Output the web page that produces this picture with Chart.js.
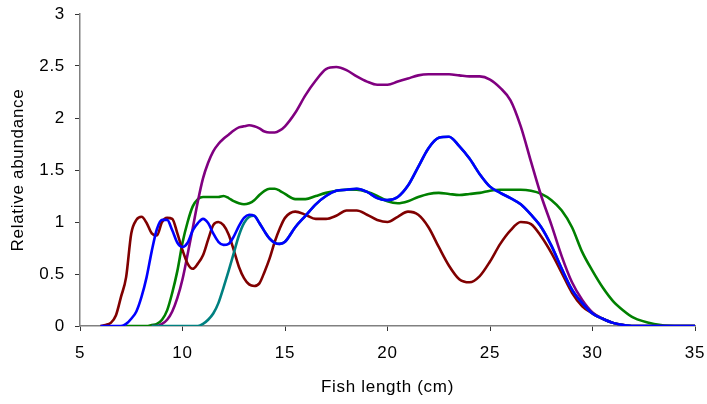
<!doctype html>
<html>
<head>
  <meta charset="utf-8">
  <script src="https://cdn.jsdelivr.net/npm/chart.js@4.4.1/dist/chart.umd.min.js"></script>
  <style>
    html, body { margin: 0; padding: 0; background: #fff; }
    #wrap { width: 707px; height: 404px; }
  </style>
</head>
<body>
  <div id="wrap"><canvas id="chart" width="707" height="404"></canvas></div>
  <script>
    // fish length grid (cm)
    const lengths = [
      6, 6.25, 6.5, 6.75, 7, 7.25, 7.5, 7.75, 8, 8.25, 8.5, 8.75, 9, 9.25, 9.5, 9.75,
      10, 10.25, 10.5, 10.75, 11, 11.25, 11.5, 11.75, 12, 12.25, 12.5, 12.75, 13, 13.25, 13.5, 13.75,
      14, 14.25, 14.5, 14.75, 15,
      15.5, 16, 16.5, 17, 17.5, 18, 18.5, 19, 19.5, 20, 20.5, 21, 21.5, 22, 22.5, 23, 23.5,
      24, 24.5, 25, 25.5, 26, 26.5, 27, 27.5, 28, 28.5, 29, 29.5, 30, 30.5, 31, 31.5, 32,
      33, 34, 35
    ];

    const maroonVals = [
      0, 0.01, 0.03, 0.1, 0.28, 0.47, 0.89, 1.02, 1.05, 0.99, 0.89, 0.87, 1.0, 1.04, 1.03, 0.89,
      0.73, 0.6, 0.55, 0.6, 0.68, 0.83, 0.97, 1.0, 0.97, 0.88, 0.73, 0.57, 0.46, 0.4, 0.385, 0.41,
      0.52, 0.65, 0.81, 0.94, 1.04,
      1.1, 1.07, 1.03, 1.03, 1.06, 1.11, 1.11, 1.07, 1.02, 1.0, 1.05, 1.1, 1.07, 0.95, 0.76, 0.58, 0.45,
      0.42, 0.48, 0.62, 0.79, 0.92, 1.0, 0.98, 0.86, 0.7, 0.51, 0.32, 0.19, 0.12, 0.07, 0.03, 0.01, 0,
      0, 0, 0
    ];

    const blueVals = [
      0, 0, 0, 0, 0, 0.02, 0.07, 0.14, 0.28, 0.47, 0.72, 0.93, 1.02, 1.02, 0.92, 0.8,
      0.76, 0.8, 0.92, 0.99, 1.03, 0.99, 0.89, 0.81, 0.78, 0.79, 0.86, 0.96, 1.04, 1.07, 1.06, 0.99,
      0.91, 0.84, 0.8, 0.79, 0.81,
      0.95, 1.06, 1.17, 1.25, 1.3, 1.31, 1.32, 1.29, 1.23, 1.21, 1.24, 1.35, 1.53, 1.71, 1.81, 1.82, 1.73,
      1.61, 1.46, 1.34, 1.28, 1.23, 1.17, 1.07, 0.95, 0.77, 0.55, 0.35, 0.22, 0.12, 0.07, 0.03, 0.01, 0,
      0, 0, 0
    ];

    const greenVals = [
      null, null, null, null, null, 0, 0, 0, 0, 0, 0.01, 0.02, 0.06, 0.15, 0.32, 0.53,
      0.8, 1.0, 1.15, 1.22, 1.24, 1.24, 1.24, 1.24, 1.25, 1.23, 1.2, 1.18, 1.17, 1.18, 1.21, 1.26,
      1.3, 1.32, 1.32, 1.3, 1.27,
      1.22, 1.22, 1.25, 1.28, 1.3, 1.31, 1.31, 1.29, 1.25, 1.2, 1.18, 1.2, 1.24, 1.27, 1.28, 1.27, 1.26,
      1.27, 1.28, 1.3, 1.31, 1.31, 1.31, 1.3, 1.27, 1.21, 1.11, 0.95, 0.71, 0.53, 0.37, 0.24, 0.15, 0.08,
      0.02, 0, 0
    ];

    // teal rises up to 13.25 cm, then runs under the blue curve
    const tealRise = [
      null, null, null, null, null, null, null, null, null, null, 0, 0, 0, 0, 0, 0,
      0, 0, 0, 0, 0.02, 0.06, 0.12, 0.22, 0.37, 0.53, 0.7, 0.87, 0.99, 1.05
    ];
    const tealVals = tealRise.concat(blueVals.slice(tealRise.length));

    const purpleVals = [
      null, null, null, null, null, null, null, null, null, null, 0, 0, 0.02, 0.06, 0.14, 0.27,
      0.45, 0.69, 0.94, 1.2, 1.42, 1.57, 1.68, 1.75, 1.8, 1.84, 1.88, 1.91, 1.92, 1.93, 1.92, 1.9,
      1.87, 1.86, 1.86, 1.88, 1.92,
      2.05, 2.22, 2.36, 2.47, 2.49, 2.46, 2.4, 2.35, 2.32, 2.32, 2.35, 2.38, 2.41, 2.42, 2.42, 2.42, 2.41,
      2.4, 2.4, 2.37, 2.29, 2.17, 1.92, 1.58, 1.25, 0.97, 0.67, 0.42, 0.25, 0.13, 0.07, 0.03, 0.01, 0,
      0, 0, 0
    ];

    const xTicks = [5, 10, 15, 20, 25, 30, 35];
    const yTicks = [0, 0.5, 1, 1.5, 2, 2.5, 3];

    function pts(vals) {
      return lengths.map((x, i) => ({ x, y: vals[i] }));
    }
    function line(vals, color) {
      return {
        data: pts(vals),
        borderColor: color,
        backgroundColor: color,
        borderWidth: 2.6,
        pointRadius: 0,
        fill: false,
        cubicInterpolationMode: 'monotone'
      };
    }

    const font = { family: '"Liberation Sans", Arial, sans-serif', size: 17 };
    const axisGray = '#808080';

    // the original text is a little wider than plain Arial
    const spacing = {
      id: 'spacing',
      beforeUpdate: (chart) => { chart.ctx.letterSpacing = '0.7px'; },
      beforeDraw: (chart) => { chart.ctx.letterSpacing = '0.7px'; }
    };

    new Chart(document.getElementById('chart'), {
      type: 'line',
      data: {
        datasets: [
          line(blueVals, '#0000FF'),
          line(tealVals, '#008080'),
          line(maroonVals, '#800000'),
          line(purpleVals, '#800080'),
          line(greenVals, '#008000')
        ]
      },
      options: {
        responsive: false,
        animation: false,
        events: [],
        layout: { padding: { top: 14, right: 12, left: 0, bottom: 0 } },
        plugins: { legend: { display: false }, tooltip: { enabled: false } },
        scales: {
          x: {
            type: 'linear',
            min: 5,
            max: 35,
            afterBuildTicks: (s) => { s.ticks = xTicks.map(v => ({ value: v })); },
            afterFit: (s) => { s.height = 78; s.paddingLeft = 0; s.paddingRight = 0; },
            border: { color: axisGray, width: 1.5 },
            grid: { display: true, drawOnChartArea: false, drawTicks: true, tickLength: 5, color: '#333' },
            ticks: { color: '#000', font, padding: 12, maxRotation: 0, callback: (v) => String(v) },
            title: { display: true, text: 'Fish length (cm)', color: '#000', font, padding: { top: 0, bottom: 6 } }
          },
          y: {
            min: 0,
            max: 3,
            afterBuildTicks: (s) => { s.ticks = yTicks.map(v => ({ value: v })); },
            afterFit: (s) => { s.width = 80; s.paddingTop = 0; s.paddingBottom = 0; },
            border: { color: axisGray, width: 1.5 },
            grid: { display: true, drawOnChartArea: false, drawTicks: true, tickLength: 5, color: '#333' },
            ticks: { color: '#000', font, padding: 10, callback: (v) => String(v) },
            title: { display: true, text: 'Relative abundance', color: '#000', font, padding: { top: 8, bottom: 0 } }
          }
        }
      },
      plugins: [spacing]
    });
  </script>
</body>
</html>
